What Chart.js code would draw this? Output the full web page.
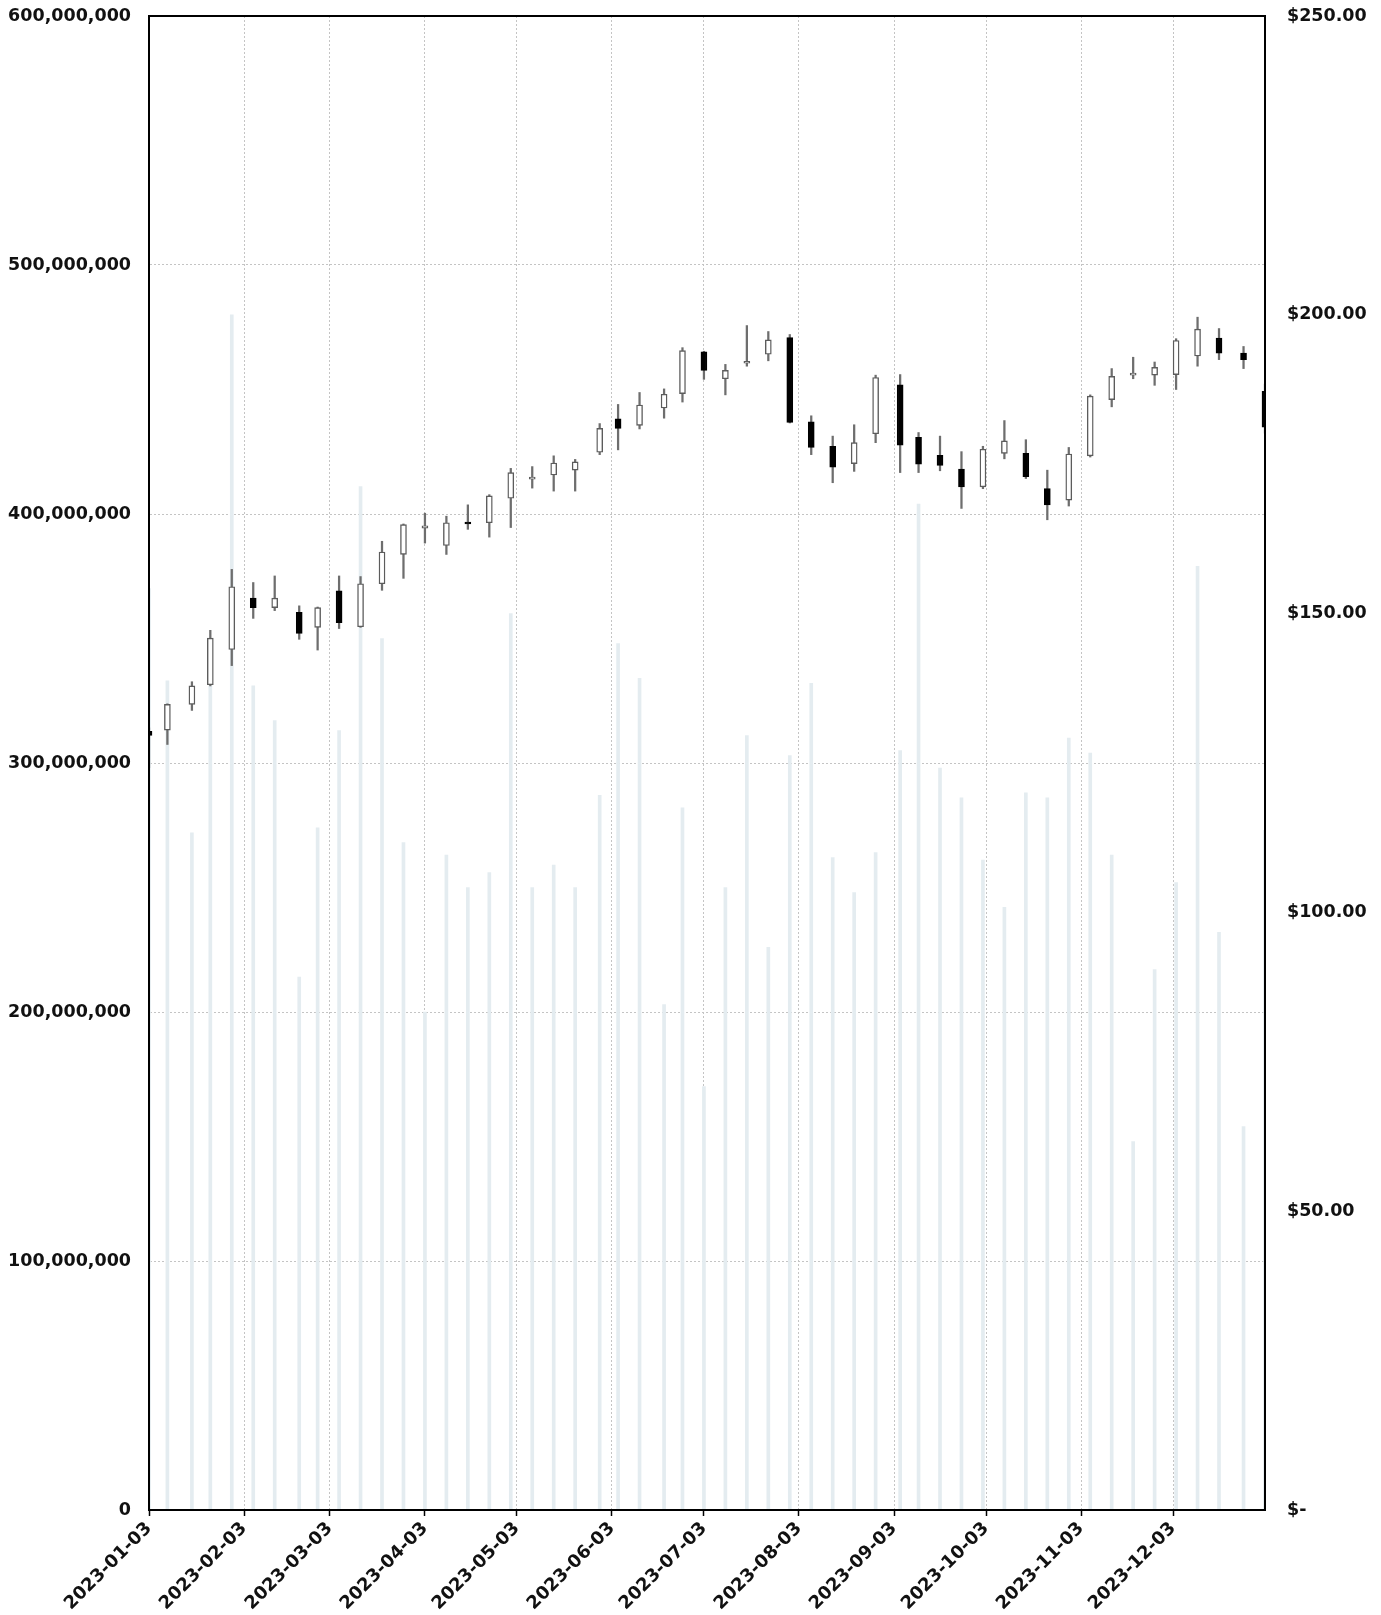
<!DOCTYPE html>
<html>
<head>
<meta charset="utf-8">
<script src="https://cdn.jsdelivr.net/npm/chart.js@4.4.1/dist/chart.umd.min.js"></script>
<style>
  html, body { margin: 0; padding: 0; background: #fff; }
  #wrap { width: 1381px; height: 1615px; position: relative; }
</style>
</head>
<body>
<div id="wrap"><canvas id="myChart"></canvas></div>
<script>
"use strict";

// weekly bars, first trading day of each week
const weekStarts = [
    "2023-01-03", "2023-01-09", "2023-01-17", "2023-01-23", "2023-01-30",
    "2023-02-06", "2023-02-13", "2023-02-21", "2023-02-27", "2023-03-06",
    "2023-03-13", "2023-03-20", "2023-03-27", "2023-04-03", "2023-04-10",
    "2023-04-17", "2023-04-24", "2023-05-01", "2023-05-08", "2023-05-15",
    "2023-05-22", "2023-05-30", "2023-06-05", "2023-06-12", "2023-06-20",
    "2023-06-26", "2023-07-03", "2023-07-10", "2023-07-17", "2023-07-24",
    "2023-07-31", "2023-08-07", "2023-08-14", "2023-08-21", "2023-08-28",
    "2023-09-05", "2023-09-11", "2023-09-18", "2023-09-25", "2023-10-02",
    "2023-10-09", "2023-10-16", "2023-10-23", "2023-10-30", "2023-11-06",
    "2023-11-13", "2023-11-20", "2023-11-27", "2023-12-04", "2023-12-11",
    "2023-12-18", "2023-12-26", "2024-01-02"
];

const openPrices = [
    130.3, 130.5, 134.8, 138.1, 144.0, 152.6, 151.0, 150.2, 147.7, 153.8,
    147.8, 155.0, 159.9, 164.3, 161.4, 165.1, 165.2, 169.3, 172.5, 173.2,
    174.0, 177.0, 182.6, 181.5, 184.4, 186.8, 193.8, 189.3, 191.9, 193.4,
    196.2, 182.1, 178.0, 175.1, 180.1, 188.3, 179.5, 176.5, 174.2, 171.2,
    176.8, 176.8, 170.9, 169.0, 176.4, 185.8, 189.9, 189.9, 190.0, 193.1,
    196.1, 193.6, 187.2
];
const highPrices = [
    130.9, 134.9, 138.6, 147.2, 157.4, 155.2, 156.3, 151.3, 151.1, 156.3,
    156.2, 162.1, 165.0, 166.8, 166.3, 168.2, 169.9, 174.3, 174.6, 176.4,
    175.8, 181.8, 185.0, 187.0, 187.6, 194.5, 193.9, 191.7, 198.2, 197.2,
    196.7, 183.1, 179.7, 181.6, 189.9, 190.0, 180.3, 179.7, 177.1, 178.0,
    182.3, 179.1, 174.0, 177.8, 186.6, 191.0, 192.9, 192.1, 196.0, 199.6,
    197.7, 194.7, 188.4
];
const lowPrices = [
    124.2, 128.1, 133.8, 137.9, 141.3, 149.2, 150.5, 145.7, 143.9, 147.5,
    147.7, 153.9, 155.9, 161.8, 159.9, 164.1, 162.8, 164.4, 171.0, 170.5,
    170.5, 176.6, 177.4, 180.9, 182.7, 185.4, 189.2, 186.6, 191.4, 192.3,
    181.9, 176.6, 171.9, 173.8, 178.6, 173.6, 173.6, 173.9, 167.6, 170.9,
    175.9, 172.6, 165.7, 168.0, 176.2, 184.6, 189.3, 188.2, 187.5, 191.4,
    192.5, 191.0, 180.2
];
const closePrices = [
    129.6, 134.8, 137.9, 145.9, 154.5, 151.0, 152.6, 146.7, 151.0, 148.5,
    155.0, 160.3, 164.9, 164.7, 165.2, 165.0, 169.7, 173.6, 172.6, 175.2,
    175.4, 181.0, 181.0, 184.9, 186.7, 194.0, 190.7, 190.7, 192.0, 195.8,
    182.0, 177.8, 174.5, 178.6, 189.5, 178.2, 175.0, 174.8, 171.2, 177.5,
    178.9, 172.9, 168.2, 176.7, 186.4, 189.7, 190.0, 191.2, 195.7, 197.6,
    193.6, 192.5, 181.2
];
// shares traded per week
const volumes = [
    370e6, 333e6, 272e6, 331e6, 480e6, 331e6, 317e6, 214e6, 274e6, 313e6,
    411e6, 350e6, 268e6, 200e6, 263e6, 250e6, 256e6, 360e6, 250e6, 259e6,
    250e6, 287e6, 348e6, 334e6, 203e6, 282e6, 170e6, 250e6, 311e6, 226e6,
    303e6, 332e6, 262e6, 248e6, 264e6, 305e6, 404e6, 298e6, 286e6, 261e6,
    242e6, 288e6, 286e6, 310e6, 304e6, 263e6, 148e6, 217e6, 252e6, 379e6,
    232e6, 154e6, 273e6
];

const monthTicks = [
    "2023-01-03", "2023-02-03", "2023-03-03", "2023-04-03", "2023-05-03",
    "2023-06-03", "2023-07-03", "2023-08-03", "2023-09-03", "2023-10-03",
    "2023-11-03", "2023-12-03"
];
const xStart = "2023-01-03";
const xEnd = "2024-01-02";

function toMs(s) {
    const p = s.split("-");
    return Date.UTC(+p[0], +p[1] - 1, +p[2]);
}
function fmtDate(v) {
    const d = new Date(v);
    const m = String(d.getUTCMonth() + 1).padStart(2, "0");
    const day = String(d.getUTCDate()).padStart(2, "0");
    return d.getUTCFullYear() + "-" + m + "-" + day;
}

const xs = weekStarts.map(toMs);
const volumeData = xs.map((x, i) => ({ x: x, y: volumes[i] }));
const wickData = xs.map((x, i) => ({ x: x, y: [lowPrices[i], highPrices[i]] }));
const bodyData = xs.map((x, i) => ({ x: x, y: [openPrices[i], closePrices[i]] }));
const isDown = openPrices.map((o, i) => closePrices[i] < o);

const labelFont = { family: "'DejaVu Sans', sans-serif", size: 17.5, weight: "bold" };

// keep the tick-label padding from pushing the plot area around
function noPad(scale) {
    scale.paddingTop = 0;
    scale.paddingBottom = 0;
    scale.paddingLeft = 0;
    scale.paddingRight = 0;
}

// black frame round the plot, drawn over the bars
const frame = {
    id: "frame",
    afterDraw(chart) {
        const a = chart.chartArea;
        const ctx = chart.ctx;
        ctx.save();
        ctx.strokeStyle = "#000";
        ctx.lineWidth = 2;
        ctx.strokeRect(a.left, a.top, a.right - a.left, a.bottom - a.top);
        ctx.restore();
    }
};

const ctx = document.getElementById("myChart").getContext("2d");
new Chart(ctx, {
    type: "bar",
    data: {
        datasets: [
            {
                label: "Volume",
                data: volumeData,
                yAxisID: "y",
                grouped: false,
                barThickness: 3,
                backgroundColor: "#e4ecf0",
                order: 3
            },
            {
                label: "Range",
                data: wickData,
                yAxisID: "y1",
                grouped: false,
                barThickness: 1.6,
                backgroundColor: "#6e6e6e",
                order: 2
            },
            {
                label: "Price",
                data: bodyData,
                yAxisID: "y1",
                grouped: false,
                barThickness: 6,
                minBarLength: 2,
                borderSkipped: false,
                borderWidth: 1.4,
                backgroundColor: isDown.map(d => (d ? "#000" : "#fff")),
                borderColor: isDown.map(d => (d ? "#000" : "#5c5c5c")),
                order: 1
            }
        ]
    },
    options: {
        responsive: true,
        maintainAspectRatio: false,
        animation: false,
        layout: { padding: { top: 16, left: 0, right: 0, bottom: 0 } },
        plugins: {
            legend: { display: false },
            tooltip: { enabled: false }
        },
        scales: {
            x: {
                type: "linear",
                offset: false,
                min: toMs(xStart),
                max: toMs(xEnd),
                afterBuildTicks: function(scale) {
                    scale.ticks = monthTicks.map(d => ({ value: toMs(d) }));
                },
                afterFit: function(scale) {
                    scale.height = 105;
                    noPad(scale);
                },
                ticks: {
                    callback: v => fmtDate(v),
                    autoSkip: false,
                    maxRotation: 45,
                    minRotation: 45,
                    padding: 2,
                    color: "#111",
                    font: { family: "'DejaVu Sans', sans-serif", size: 18, weight: "bold" }
                },
                grid: {
                    offset: false,
                    color: "#c4c4c4",
                    lineWidth: 1,
                    tickColor: "#000",
                    tickLength: 6,
                    tickWidth: 1.5
                },
                border: { display: true, color: "#000", width: 2, dash: [2, 2] }
            },
            y: {
                position: "left",
                min: 0,
                max: 600e6,
                afterBuildTicks: function(scale) {
                    const t = [];
                    for (let v = 0; v <= 600e6; v += 100e6) t.push({ value: v });
                    scale.ticks = t;
                },
                afterFit: function(scale) {
                    scale.width = 149;
                    noPad(scale);
                },
                ticks: {
                    callback: v => v.toLocaleString("en-US"),
                    padding: 18,
                    color: "#111",
                    font: labelFont
                },
                grid: { color: "#c4c4c4", lineWidth: 1, drawTicks: false },
                border: { display: true, color: "#000", width: 2, dash: [2, 2] }
            },
            y1: {
                position: "right",
                min: 0,
                max: 250,
                afterBuildTicks: function(scale) {
                    const t = [];
                    for (let v = 0; v <= 250; v += 50) t.push({ value: v });
                    scale.ticks = t;
                },
                afterFit: function(scale) {
                    scale.width = 116;
                    noPad(scale);
                },
                ticks: {
                    callback: v => (v === 0 ? "$-" : "$" + v.toFixed(2)),
                    padding: 22,
                    color: "#111",
                    font: labelFont
                },
                grid: { drawOnChartArea: false, drawTicks: false },
                border: { display: true, color: "#000", width: 2 }
            }
        }
    },
    plugins: [frame]
});
</script>
</body>
</html>
